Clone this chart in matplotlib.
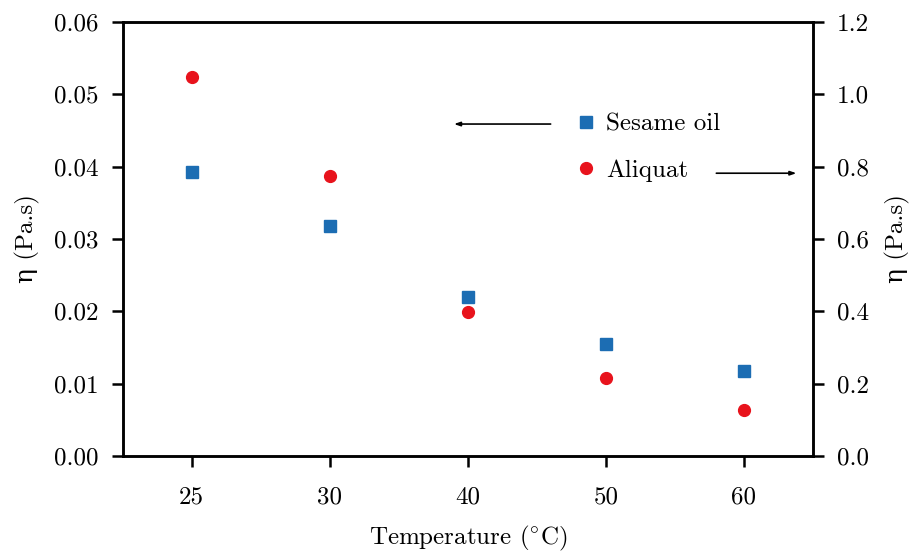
import matplotlib
matplotlib.use("Agg")
import matplotlib.pyplot as plt
import numpy as np

temperatures = ["25", "30", "40", "50", "60"]
sesame_oil = [0.0393, 0.0318, 0.0220, 0.0155, 0.0117]
aliquat = [1.049, 0.775, 0.397, 0.215, 0.127]

left_ticks = [0.00, 0.01, 0.02, 0.03, 0.04, 0.05, 0.06]
right_ticks = [0.0, 0.2, 0.4, 0.6, 0.8, 1.0, 1.2]

plt.rcParams['font.family'] = ['cmr10', 'DejaVu Serif']
plt.rcParams['mathtext.fontset'] = 'cm'
plt.rcParams['axes.unicode_minus'] = False

FS = 18
blue = '#1c6db3'
red = '#e8131c'

fig = plt.figure(figsize=(9.15, 5.52), dpi=100)
ax = fig.add_axes([0.134, 0.174, 0.8885 - 0.134, 0.960 - 0.174])
ax2 = ax.twinx()

x = np.arange(len(temperatures))
h1, = ax.plot(x, sesame_oil, linestyle='none', marker='s', markersize=8,
              color=blue, label='Sesame oil')
h2, = ax2.plot(x, aliquat, linestyle='none', marker='o', markersize=8.5,
               color=red, label='Aliquat')

ax.set_xlim(-0.5, 4.5)
ax.set_ylim(0, 0.06)
ax2.set_ylim(0, 1.2)
ax.set_xticks(x)
ax.set_xticklabels(temperatures)
ax.set_yticks(left_ticks)
ax.set_yticklabels([f"{v:.2f}" for v in left_ticks])
ax2.set_yticks(right_ticks)
ax2.set_yticklabels([f"{v:.1f}" for v in right_ticks])

for a in (ax, ax2):
    for s in a.spines.values():
        s.set_linewidth(1.8)
    a.tick_params(direction='out', length=8, width=1.8, labelsize=FS, pad=9)
ax.tick_params(axis='x', pad=14)

ax.set_xlabel(r'Temperature ($^{\circ}$C)', fontsize=FS, labelpad=11)
ax.set_ylabel('η (Pa.s)', fontsize=FS, labelpad=10)
ax2.set_ylabel('η (Pa.s)', fontsize=FS, labelpad=12)

leg = ax2.legend(handles=[h1, h2], loc='center left',
                 bbox_to_anchor=(0.661, 0.711), frameon=False,
                 fontsize=FS, handlelength=0.6, handletextpad=0.5,
                 labelspacing=0.95, borderaxespad=0, borderpad=0)

# arrows pointing to the relevant axes
arrow_left = ((2.60, 0.0459), (1.90, 0.0459))
arrow_right = ((3.80, 0.0391), (4.38, 0.0391))
for (x0, y0), (x1, y1) in (arrow_left, arrow_right):
    ax.annotate('', xy=(x1, y1), xytext=(x0, y0),
                arrowprops=dict(arrowstyle='-|>,head_length=0.35,head_width=0.12',
                                lw=1.2, color='black', shrinkA=0, shrinkB=0))

fig.savefig('out.png', dpi=100)
